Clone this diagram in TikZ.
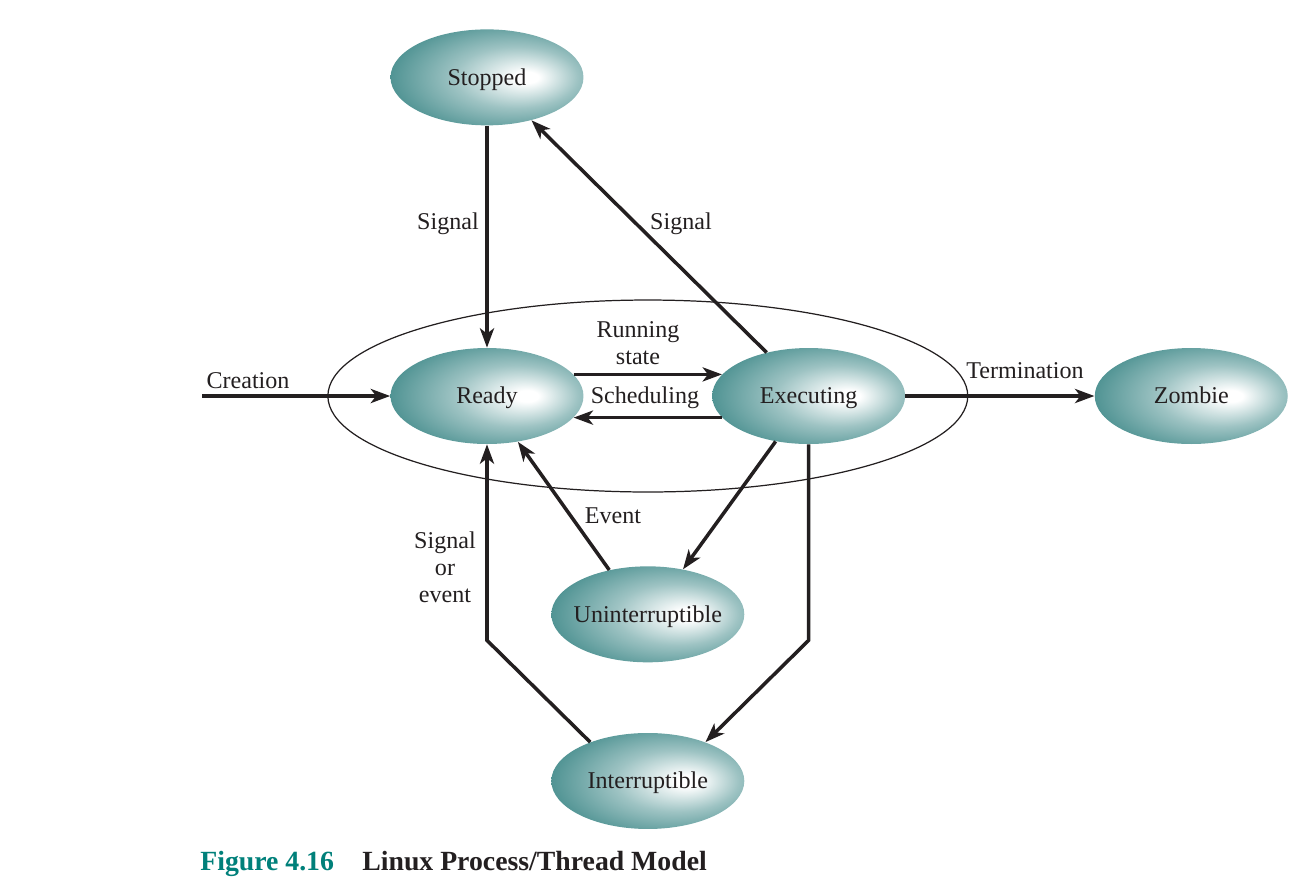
\documentclass[tikz,border=0pt]{standalone}
\usepackage{fontspec}
\setmainfont{Liberation Serif}
\usepackage{xcolor}
\usepackage{tikz}
\usetikzlibrary{shapes.geometric, arrows.meta, positioning, calc}
\definecolor{stateteal}{RGB}{78, 146, 146}
\definecolor{figteal}{RGB}{0, 128, 122}
\definecolor{inkcol}{RGB}{35, 31, 32}
\pgfdeclareradialshading{tealglow}{\pgfpoint{11bp}{0bp}}{%
    color(0bp)=(white); color(3bp)=(white); color(16bp)=(stateteal!55);
    color(30bp)=(stateteal); color(50bp)=(stateteal)}
\tikzset{
    state/.style={
        ellipse,
        minimum width=3.86cm,
        minimum height=1.92cm,
        inner sep=0pt,
        text height=0.9em,
        text depth=0pt,
        shade,
        shading=tealglow,
        text=inkcol
    },
    arrow/.style={
        line width=2pt,
        -{Stealth[length=11pt, width=8pt, inset=3pt]},
        color=inkcol
    },
    tag/.style={
        text=inkcol,
        align=center,
        inner sep=0pt
    },
    caption/.style={
        anchor=base west,
        inner sep=0pt,
        font=\fontsize{15.8}{18}\selectfont\bfseries
    }
}
\begin{document}
\begin{tikzpicture}[x=0.02cm, y=-0.02cm, font=\fontsize{13.7}{15.5}\selectfont]
    \useasboundingbox (0,0) rectangle (1303,894);

    % --- STATES ---
    \node (ready) [state] at (487,396) {Ready};
    \node (executing) [state, right=2.56cm of ready] {Executing};
    \node (zombie) [state, right=3.78cm of executing] {Zombie};
    \node (stopped) [state, above=4.44cm of ready] {Stopped};
    \coordinate (mid) at ($(ready)!0.5!(executing)$);
    \node (uninterruptible) [state, below=3.4cm of mid] {\makebox[0pt]{Uninterruptible}};
    \node (interruptible) [state, below=1.4cm of uninterruptible] {Interruptible};

    % --- RUNNING (Ready + Executing) ---
    \node (running) [draw=inkcol, line width=0.7pt, ellipse, minimum width=12.8cm, minimum height=3.84cm, inner sep=0pt] at (mid) {};

    % --- CONNECTORS ---
    \coordinate (creation_start) at (202,396);
    \draw [arrow] (creation_start) -- (ready);
    \draw [arrow] (ready.14) -- (executing.166);
    \draw [arrow] (executing.194) -- (ready.346);
    \draw [arrow] (executing) -- (zombie);
    \draw [arrow] (stopped) -- (ready);
    \draw [arrow] (executing.134) -- (stopped.316);
    \draw [arrow] (executing.234) -- (uninterruptible.52);
    \draw [arrow] (uninterruptible.131) -- (ready.304);
    \draw [arrow] (executing.south) -- ++(0,196) -- (interruptible.34);
    \draw [arrow] (interruptible.146) -- ($(ready.south)+(0,196)$) -- (ready.south);

    % --- LABELS ---
    \node (creation_lbl) [tag] at (248,381) {Creation};
    \node (running_lbl) [tag] at (638,343) {Running\\state};
    \node (sched_lbl) [tag] at (645,398) {Scheduling};
    \node (term_lbl) [tag] at (1025,371) {Termination};
    \node (signal_left) [tag] at (448,224) {Signal};
    \node (signal_right) [tag] at (681,224) {Signal};
    \node (event_lbl) [tag] at (613,516) {Event};
    \node (sigev_lbl) [tag] at (445,567) {Signal\\or\\event};

    % --- CAPTION ---
    \node (fig_num) [caption, text=figteal] at (200,870) {Figure 4.16};
    \node (fig_title) [caption, text=inkcol] at (362,870) {Linux Process/Thread Model};
\end{tikzpicture}
\end{document}
